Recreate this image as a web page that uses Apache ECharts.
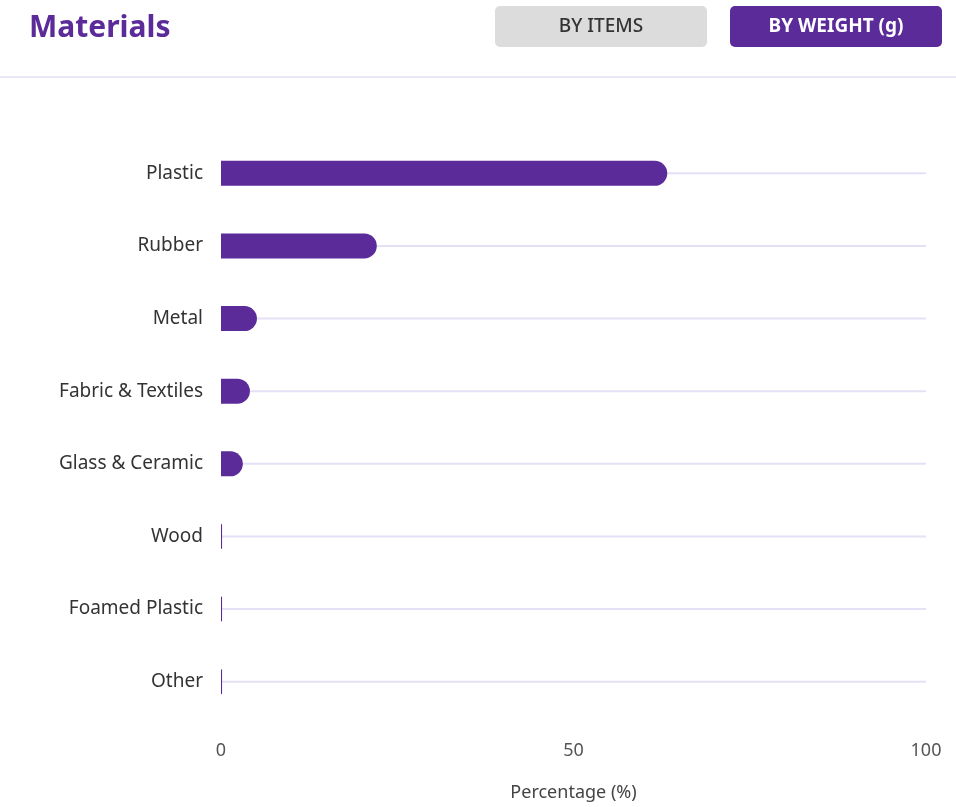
<!DOCTYPE html>
<html>
<head>
<meta charset="utf-8">
<script src="https://cdn.jsdelivr.net/npm/echarts@6/dist/echarts.min.js"></script>
<style>
  html, body { margin: 0; padding: 0; background: #ffffff; }
  #chart { width: 956px; height: 807px; }
</style>
</head>
<body>
<div id="chart"></div>
<script>
// Material categories, top to bottom
const categories = ['Plastic', 'Rubber', 'Metal', 'Fabric & Textiles', 'Glass & Ceramic', 'Wood', 'Foamed Plastic', 'Other'];
// Share of total weight (%)
const weightShare = [63.3, 22.1, 5.1, 4.1, 3.1, 0.15, 0.15, 0.15];
// Full-length track behind each bar
const trackValues = [100, 100, 100, 100, 100, 100, 100, 100];
const xTicks = [0, 50, 100];

const purple = '#5b2b99';
const fontFamily = '"Noto Sans", sans-serif';

const chart = echarts.init(document.getElementById('chart'));
chart.setOption({
  animation: false,
  title: {
    text: 'Materials',
    left: 24,
    top: 8,
    textStyle: { color: purple, fontSize: 30, fontWeight: 'bold', fontFamily: fontFamily }
  },
  graphic: [
    { type: 'rect', left: 495, top: 6, shape: { width: 212, height: 41, r: 5 }, style: { fill: '#dcdcdc' } },
    { type: 'text', x: 601, y: 27, style: { text: 'BY ITEMS', fill: '#333333', font: '500 19px ' + fontFamily, align: 'center', verticalAlign: 'middle' } },
    { type: 'rect', left: 730, top: 6, shape: { width: 212, height: 41, r: 5 }, style: { fill: purple } },
    { type: 'text', x: 836, y: 27, style: { text: 'BY WEIGHT (g)', fill: '#ffffff', font: 'bold 19px ' + fontFamily, align: 'center', verticalAlign: 'middle' } },
    { type: 'rect', left: 0, top: 76, shape: { width: 956, height: 2 }, style: { fill: '#ebe8f5' } }
  ],
  grid: { left: 221, right: 30, top: 137, bottom: 88, containLabel: false },
  xAxis: {
    type: 'value',
    min: 0,
    max: 100,
    interval: 50,
    name: 'Percentage (%)',
    nameLocation: 'middle',
    nameGap: 66,
    nameTextStyle: { color: '#444444', fontSize: 18, fontFamily: fontFamily },
    axisLine: { show: false },
    axisTick: { show: false },
    splitLine: { show: false },
    axisLabel: {
      margin: 24,
      color: '#555555',
      fontSize: 18,
      fontFamily: fontFamily,
      formatter: v => xTicks.includes(v) ? String(v) : ''
    }
  },
  yAxis: [
    {
      type: 'category',
      data: categories,
      inverse: true,
      axisLine: { show: false },
      axisTick: { show: false },
      splitLine: { show: false },
      axisLabel: { margin: 18, color: '#333333', fontSize: 19, fontFamily: fontFamily, padding: [4, 0, 0, 0] }
    },
    {
      // hidden twin axis so the thin track sits centred on each row
      type: 'category',
      data: categories,
      inverse: true,
      show: false
    }
  ],
  series: [
    {
      type: 'bar',
      yAxisIndex: 1,
      data: trackValues,
      barWidth: 2,
      silent: true,
      itemStyle: { color: '#e4e0f6' },
      z: 1
    },
    {
      type: 'bar',
      yAxisIndex: 0,
      data: weightShare,
      barWidth: 25,
      itemStyle: { color: purple, borderRadius: [0, 12.5, 12.5, 0] },
      z: 2
    }
  ]
});
</script>
</body>
</html>
